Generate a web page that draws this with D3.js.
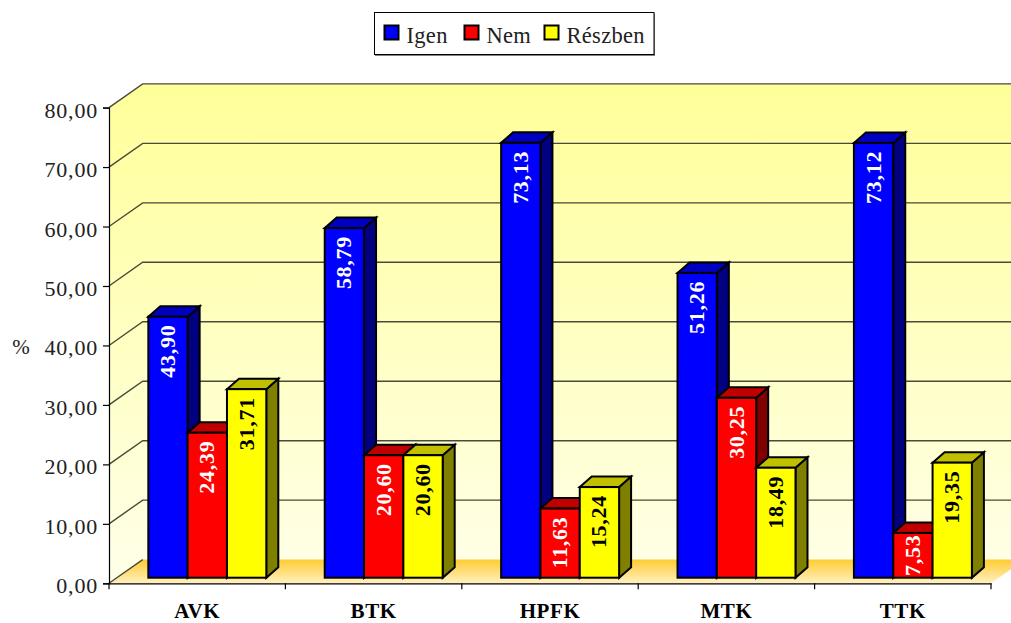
<!DOCTYPE html>
<html>
<head>
<meta charset="utf-8">
<script src="https://cdn.jsdelivr.net/npm/d3@7"></script>
<style>
    html, body { margin: 0; padding: 0; background: #fff; overflow: hidden; }
    svg { display: block; }
    text { font-family: "Liberation Serif", serif; }
</style>
</head>
<body>
<div id="chart"></div>
<script>
    // data
    const categories = ["AVK", "BTK", "HPFK", "MTK", "TTK"];
    const seriesNames = ["Igen", "Nem", "Részben"];
    const igen = [43.90, 58.79, 73.13, 51.26, 73.12];
    const nem = [24.39, 20.60, 11.63, 30.25, 7.53];
    const reszben = [31.71, 20.60, 15.24, 18.49, 19.35];
    const yTicks = [0, 10, 20, 30, 40, 50, 60, 70, 80];

    const seriesValues = [igen, nem, reszben];
    const fills = ["#0000ff", "#ff0000", "#ffff00"];
    const topFills = ["#0000c0", "#c00000", "#c0c000"];
    const sideFills = ["#000080", "#800000", "#808000"];
    const labelFills = ["#fff", "#fff", "#000"];

    const width = 1011;
    const height = 623;

    // 3D offsets: wall depth and bar depth
    const wallDx = 33.7, wallDy = -23.7;
    const barDx = 12, barDy = -10.5;
    const barLift = -5.6;

    const x0 = d3.scaleBand().domain(categories).range([109, 991]);
    const x1 = d3.scaleBand().domain(seriesNames).range([0, x0.bandwidth()])
        .paddingInner(0).paddingOuter(0.743).align(0.673);
    const y = d3.scaleLinear().domain([0, 80]).range([583.3, 107.6]);

    const svg = d3.select("#chart").append("svg")
        .attr("width", width)
        .attr("height", height);

    const defs = svg.append("defs");
    const wallGrad = defs.append("linearGradient").attr("id", "wallGrad")
        .attr("gradientUnits", "userSpaceOnUse")
        .attr("x1", 0).attr("y1", y(80) + wallDy).attr("x2", 0).attr("y2", y(0) + wallDy);
    wallGrad.append("stop").attr("offset", "0%").attr("stop-color", "#ffff99");
    wallGrad.append("stop").attr("offset", "100%").attr("stop-color", "#ffffe6");

    const floorGrad = defs.append("linearGradient").attr("id", "floorGrad")
        .attr("gradientUnits", "userSpaceOnUse")
        .attr("x1", 0).attr("y1", y(0) + wallDy).attr("x2", 0).attr("y2", y(0));
    floorGrad.append("stop").attr("offset", "0%").attr("stop-color", "#ffcc33");
    floorGrad.append("stop").attr("offset", "100%").attr("stop-color", "#fff0c0");

    const xL = x0.range()[0], xR = x0.range()[1];
    const poly = pts => pts.map(p => p.join(",")).join(" ");

    // ------------- walls and floor -------------
    svg.append("polygon")
        .attr("points", poly([[xL, y(80)], [xL + wallDx, y(80) + wallDy], [width + 40, y(80) + wallDy], [width + 40, y(0) + wallDy], [xL + wallDx, y(0) + wallDy], [xL, y(0)]]))
        .attr("fill", "url(#wallGrad)");
    svg.append("polygon")
        .attr("points", poly([[xL, y(0)], [xL + wallDx, y(0) + wallDy], [xR + wallDx, y(0) + wallDy], [xR, y(0)]]))
        .attr("fill", "url(#floorGrad)");

    // gridlines, slanted on the side wall then flat on the back wall
    svg.append("g").selectAll("path").data(yTicks.filter(d => d > 0)).join("path")
        .attr("d", d => `M${xL},${y(d)}L${xL + wallDx},${y(d) + wallDy}H${width + 40}`)
        .attr("fill", "none")
        .attr("stroke", "#4a4a3a")
        .attr("stroke-width", 1.4);
    svg.append("path")
        .attr("d", `M${xL},${y(0)}L${xL + wallDx},${y(0) + wallDy}`)
        .attr("fill", "none").attr("stroke", "#4a4a3a").attr("stroke-width", 1.4);

    // ------------- bars -------------
    const groups = svg.append("g").selectAll("g").data(categories).join("g")
        .attr("transform", d => `translate(${x0(d)},0)`);

    const barWidth = x1.bandwidth();
    groups.each(function (cat, ci) {
        const g = d3.select(this);
        seriesNames.forEach((name, si) => {
            const v = seriesValues[si][ci];
            const l = x1(name), r = l + barWidth;
            const top = y(v) + barLift, bottom = y(0) + barLift;
            const bar = g.append("g")
                .attr("stroke", "#000")
                .attr("stroke-width", 2)
                .attr("stroke-linejoin", "miter");
            bar.append("polygon")
                .attr("points", poly([[r, top], [r + barDx, top + barDy], [r + barDx, bottom + barDy], [r, bottom]]))
                .attr("fill", sideFills[si]);
            bar.append("polygon")
                .attr("points", poly([[l, top], [l + barDx, top + barDy], [r + barDx, top + barDy], [r, top]]))
                .attr("fill", topFills[si]);
            bar.append("rect")
                .attr("x", l).attr("y", top)
                .attr("width", barWidth).attr("height", bottom - top)
                .attr("fill", fills[si]);
        });
    });

    // value labels go on top of all the bars
    groups.each(function (cat, ci) {
        const g = d3.select(this);
        seriesNames.forEach((name, si) => {
            const v = seriesValues[si][ci];
            const top = y(v) + barLift, bottom = y(0) + barLift;
            const label = g.append("text")
                .attr("text-anchor", "end")
                .attr("font-size", 22)
                .attr("font-weight", "bold")
                .attr("letter-spacing", 0.7)
                .attr("fill", labelFills[si])
                .text(v.toFixed(2).replace(".", ","));
            const len = label.node().getComputedTextLength();
            const gap = Math.min(8, (bottom - top - len) / 2);
            label.attr("transform", `translate(${x1(name) + barWidth / 2 + 7},${top + gap}) rotate(-90)`);
        });
    });

    // ------------- axes -------------
    const yAxis = d3.axisLeft(y)
        .tickValues(yTicks)
        .tickSize(6)
        .tickPadding(5)
        .tickFormat(d => d.toFixed(2).replace(".", ","));
    const yG = svg.append("g").attr("transform", `translate(${xL},0)`).call(yAxis);

    const xAxis = d3.axisBottom(x0).tickSize(0).tickPadding(0);
    const xG = svg.append("g").attr("transform", `translate(0,${y(0)})`).call(xAxis);

    // x ticks sit between the categories
    xG.selectAll(".between").data(categories.concat(["end"])).join("line")
        .attr("class", "between")
        .attr("x1", (d, i) => xL + i * x0.step()).attr("x2", (d, i) => xL + i * x0.step())
        .attr("y1", 0).attr("y2", 6)
        .attr("stroke", "#000").attr("stroke-width", 1.2);

    yG.selectAll("path, line").attr("stroke", "#000").attr("stroke-width", 1.2);
    xG.select("path").attr("stroke", "#000").attr("stroke-width", 1.2);
    yG.selectAll("text")
        .attr("y", 2.5)
        .attr("font-size", 22)
        .attr("letter-spacing", 0.8)
        .attr("fill", "#222")
        .style("font-family", '"Liberation Serif", serif');
    xG.selectAll(".tick text")
        .attr("y", 35)
        .attr("dy", 0)
        .attr("font-size", 21)
        .attr("font-weight", "bold")
        .attr("letter-spacing", 0.6)
        .attr("fill", "#000")
        .style("font-family", '"Liberation Serif", serif');

    svg.append("text")
        .attr("x", 21).attr("y", 354)
        .attr("text-anchor", "middle")
        .attr("font-size", 21)
        .attr("fill", "#222")
        .text("%");

    // ------------- legend -------------
    const legend = svg.append("g");
    legend.append("rect")
        .attr("x", 375).attr("y", 13.5).attr("width", 280).attr("height", 42.5)
        .attr("fill", "#808080");
    legend.append("rect")
        .attr("x", 374.5).attr("y", 12.5).attr("width", 279.5).attr("height", 42)
        .attr("fill", "#fff").attr("stroke", "#000").attr("stroke-width", 1);

    const legendX = [384.5, 464.5, 544.5];
    const legendItems = legend.selectAll("g").data(seriesNames).join("g")
        .attr("transform", (d, i) => `translate(${legendX[i]},25.5)`);
    legendItems.append("rect")
        .attr("width", 14).attr("height", 14)
        .attr("fill", (d, i) => fills[i])
        .attr("stroke", "#000").attr("stroke-width", 2);
    legendItems.append("text")
        .attr("x", 22).attr("y", 17.5)
        .attr("font-size", 22.5)
        .attr("letter-spacing", 0.3)
        .attr("fill", "#222")
        .text(d => d);
</script>
</body>
</html>
